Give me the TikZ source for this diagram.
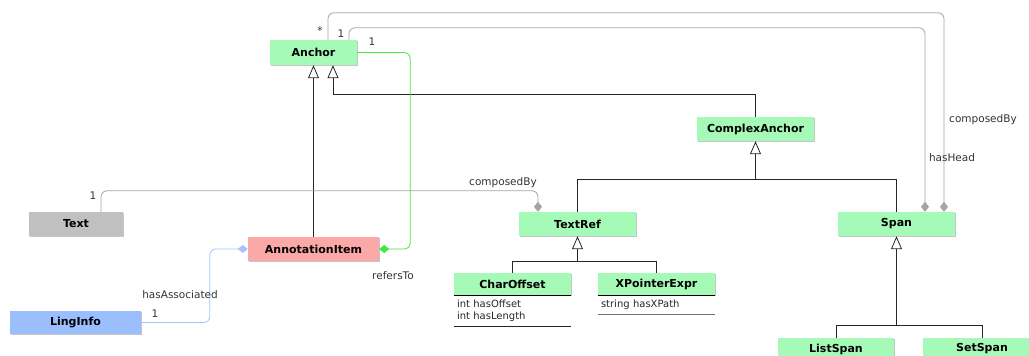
\documentclass[tikz,border=0pt]{standalone}
\usepackage{fontspec}
\setmainfont{DejaVu Sans}
\usetikzlibrary{arrows.meta,positioning,shadows}

\definecolor{clsgreen}{RGB}{166,250,183}
\definecolor{txtgray}{RGB}{192,192,192}
\definecolor{itempink}{RGB}{250,168,168}
\definecolor{lingblue}{RGB}{155,190,255}
\definecolor{assocgray}{RGB}{165,165,165}
\definecolor{refgreen}{RGB}{60,235,60}
\definecolor{assocblue}{RGB}{165,195,255}

\begin{document}
\begin{tikzpicture}[x=1pt,y=-1pt,
    cls/.style={fill=#1, minimum height=24pt, minimum width=117pt, inner sep=0pt,
      font=\fontsize{11}{13}\selectfont\bfseries,
      drop shadow={shadow xshift=1pt, shadow yshift=-1pt, fill=black!45}},
    cls/.default=clsgreen,
    attrs/.style={anchor=north, text width=111pt, inner xsep=3pt, inner ysep=4.5pt,
      align=left, font=\fontsize{10}{12}\selectfont, text=black!85},
    lbl/.style={font=\fontsize{10.5}{12}\selectfont, text=black!80, inner sep=0pt},
    gen/.style={draw=black!85, line width=0.8pt, -{Triangle[open, length=13pt, width=11pt, fill=white]}},
    assoc/.style={line width=0.8pt, rounded corners=6pt},
    comp/.style={-{Diamond[length=10pt, width=8pt]}}]

  \useasboundingbox (0,0) rectangle (1029,356);

	% Classes
  \node[cls, minimum width=87pt, minimum height=25pt] (Anchor) at (313.5,52.5) {Anchor};
  \node[cls] (ComplexAnchor) at (755.5,129) {ComplexAnchor};
  \node[cls=txtgray, minimum width=94pt] (Text) at (76,224) {Text};
  \node[cls=itempink, minimum width=131pt] (AnnotationItem) at (313.5,249) {AnnotationItem};
  \node[cls=lingblue, minimum width=131pt, minimum height=23pt] (LingInfo) at (75.5,322.5) {LingInfo};
  \node[cls] (TextRef) at (577.5,224) {TextRef};
  \node[cls] (Span) at (896.5,224) {Span};
  \node[cls, minimum height=22pt] (CharOffset) at (512.5,284) {CharOffset};
  \node[cls, minimum height=22pt] (XPointerExpr) at (656.5,284) {XPointerExpr};
  \node[cls, minimum height=22pt, minimum width=116pt] (ListSpan) at (836,349) {ListSpan};
  \node[cls, minimum height=22pt, minimum width=118pt] (SetSpan) at (982,349) {SetSpan};

	% Attributes
  \node[attrs, below=0pt of CharOffset] (CharOffsetAttr) {int hasOffset\\int hasLength};
  \node[attrs, below=0pt of XPointerExpr] (XPointerAttr) {string hasXPath};
  \draw[thick] (CharOffset.south west) -- (CharOffset.south east);
  \draw[thick] (XPointerExpr.south west) -- (XPointerExpr.south east);
  \draw[semithick, black!85] (CharOffsetAttr.south west) -- (CharOffsetAttr.south east);
  \draw[semithick, black!55] (XPointerAttr.south west) -- (XPointerAttr.south east);

	% Generalizations
  \draw[gen] (AnnotationItem.north) -- (Anchor.south);
  \draw[gen] (ComplexAnchor.north) -- ++(0,-22) -| ([xshift=19.5pt]Anchor.south);
  \draw[draw=black!85, line width=0.8pt] (TextRef.north) -- ++(0,-32) -| (Span.north);
  \draw[gen] ([yshift=-39pt]ComplexAnchor.south) -- (ComplexAnchor.south);
  \draw[draw=black!85, line width=0.8pt] (CharOffset.north) -- ++(0,-11) -| (XPointerExpr.north);
  \draw[gen] ([yshift=-26pt]TextRef.south) -- (TextRef.south);
  \draw[draw=black!85, line width=0.8pt] (ListSpan.north) -- ++(0,-12) -| (SetSpan.north);
  \draw[gen] ([yshift=-90pt]Span.south) -- (Span.south);

	% Associations
  \draw[assoc, comp, assocgray] ([xshift=25pt]Text.north) -- ++(0,-21) -| ([xshift=-39.5pt]TextRef.north);
  \draw[assoc, comp, assocgray] ([xshift=14.5pt]Anchor.north) -- ++(0,-27) -| ([xshift=47.5pt]Span.north);
  \draw[assoc, comp, assocgray] ([xshift=35.5pt]Anchor.north) -- ++(0,-12) -| ([xshift=28.5pt]Span.north);
  \draw[assoc, comp, refgreen] (Anchor.east) -| ([xshift=31pt]AnnotationItem.east) -- (AnnotationItem.east);
  \draw[assoc, comp, assocblue] (LingInfo.east) -| ([xshift=-38pt]AnnotationItem.west) -- (AnnotationItem.west);

	% Labels
  \node[lbl] (TextMult) at (93,196) {1};
  \node[lbl] (TextRole) at (503,183) {composedBy};
  \node[lbl] (SpanMult) at (320,31) {*};
  \node[lbl] (HeadMult) at (341,34) {1};
  \node[lbl] (SpanRole) at (983,120) {composedBy};
  \node[lbl] (HeadRole) at (952,158) {hasHead};
  \node[lbl] (RefMult) at (372,42) {1};
  \node[lbl] (RefRole) at (393,276) {refersTo};
  \node[lbl] (LingRole) at (180,295) {hasAssociated};
  \node[lbl] (LingMult) at (155,314) {1};

\end{tikzpicture}
\end{document}
